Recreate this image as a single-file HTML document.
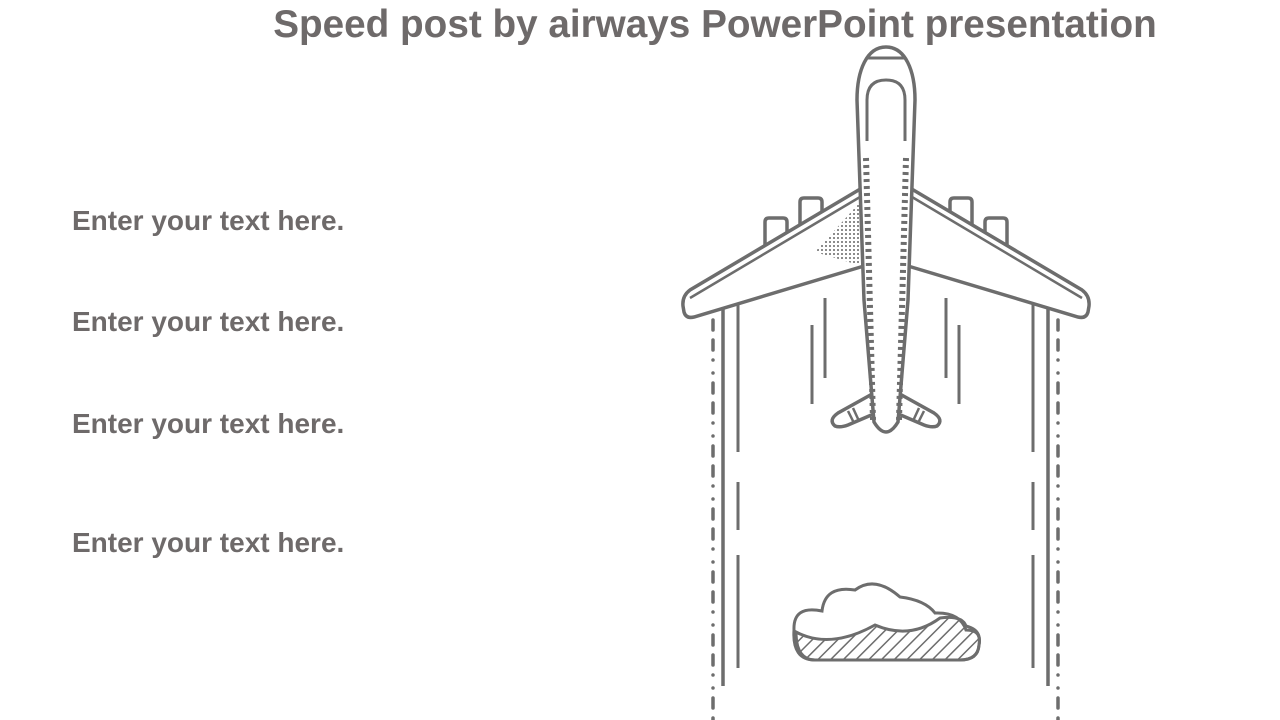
<!DOCTYPE html>
<html><head><meta charset="utf-8"><style>
body{margin:0;width:1280px;height:720px;background:#fff;overflow:hidden;position:relative;font-family:"Liberation Sans",sans-serif}
.t{position:absolute;color:#6e6a6a;font-weight:bold;white-space:nowrap}
.h{top:3px;left:0;width:1430px;text-align:center;font-size:38.7px}
.l{left:72px;font-size:28px}
svg{position:absolute;left:0;top:0}
</style></head><body>
<div class="t h">Speed post by airways PowerPoint presentation</div>
<div class="t l" style="top:205px">Enter your text here.</div>
<div class="t l" style="top:306px">Enter your text here.</div>
<div class="t l" style="top:408px">Enter your text here.</div>
<div class="t l" style="top:527px">Enter your text here.</div>
<svg width="1280" height="720" viewBox="0 0 1280 720" fill="none" stroke="#6d6d6d" stroke-width="3.5">
<defs>
<pattern id="hat" width="9" height="9" patternUnits="userSpaceOnUse" patternTransform="rotate(45)"><line x1="0" y1="0" x2="0" y2="9" stroke="#6d6d6d" stroke-width="3"/></pattern>
<pattern id="dot" width="4" height="4" patternUnits="userSpaceOnUse"><circle cx="2" cy="2" r="1" fill="#666" stroke="none"/></pattern>
</defs>
<!-- runway -->
<line x1="723" y1="305" x2="723" y2="686"/>
<line x1="1048" y1="305" x2="1048" y2="686"/>
<g stroke-width="3"><line x1="738" y1="305" x2="738" y2="452"/><line x1="738" y1="482" x2="738" y2="530"/><line x1="738" y1="555" x2="738" y2="668"/>
<line x1="1033" y1="305" x2="1033" y2="452"/><line x1="1033" y1="482" x2="1033" y2="530"/><line x1="1033" y1="555" x2="1033" y2="668"/></g>
<g stroke-width="3.5" stroke-linecap="round" stroke-dasharray="0 10 10 10 10 10 0 13">
<line x1="713" y1="310" x2="713" y2="720"/><line x1="1058" y1="310" x2="1058" y2="720"/></g>
<!-- speed lines -->
<g stroke-width="3"><line x1="825" y1="298" x2="825" y2="378"/><line x1="812" y1="325" x2="812" y2="404"/><line x1="946" y1="298" x2="946" y2="378"/><line x1="959" y1="325" x2="959" y2="404"/></g>
<!-- engines -->
<g fill="#fff">
<path d="M765,248 L765,222 Q765,218 769,218 L783,218 Q787,218 787,222 L787,240"/>
<path d="M800,229 L800,202 Q800,198 804,198 L818,198 Q822,198 822,202 L822,218"/>
<path d="M950,218 L950,202 Q950,198 954,198 L968,198 Q972,198 972,202 L972,229"/>
<path d="M985,240 L985,222 Q985,218 989,218 L1003,218 Q1007,218 1007,222 L1007,248"/>
</g>
<!-- wings -->
<path d="M862,188 L690,290 Q682,296 683,306 L684,312 Q686,319 694,317 L864,266 Z" fill="#fff"/>
<path d="M862,266 L815,252 L862,200 Z" fill="url(#dot)" stroke="none"/>
<line x1="860" y1="197" x2="690" y2="298" stroke-width="2.5"/>
<path d="M910,188 L1082,290 Q1090,296 1089,306 L1088,312 Q1086,319 1078,317 L908,266 Z" fill="#fff"/>
<line x1="912" y1="197" x2="1082" y2="298" stroke-width="2.5"/>
<!-- tail stabilizers -->
<path d="M874,393 L838,413 Q828,420 835,426 Q840,428 848,425 L876,413 Z" fill="#fff"/>
<path d="M898,393 L934,413 Q944,420 937,426 Q932,428 924,425 L896,413 Z" fill="#fff"/>
<g stroke-width="2.5"><line x1="848" y1="411" x2="854" y2="423"/><line x1="853" y1="408" x2="859" y2="421"/><line x1="924" y1="411" x2="918" y2="423"/><line x1="919" y1="408" x2="913" y2="421"/></g>
<!-- fuselage -->
<path d="M886,47 C905,47 915,70 915,100 L908,300 L898,422 Q886,442 874,422 L864,300 L857,100 C857,70 867,47 886,47 Z" fill="#fff"/>
<line x1="867" y1="58" x2="905" y2="58" stroke-width="3"/>
<path d="M867,141 L867,100 Q867,80 886,80 Q905,80 905,100 L905,141" stroke-width="3"/>
<g stroke-width="6" stroke-dasharray="3 4"><line x1="866" y1="158" x2="873" y2="420"/><line x1="906" y1="158" x2="899" y2="420"/></g>
<!-- cloud -->
<path d="M794,630 Q793,605 822,611 Q825,585 855,590 Q875,575 900,597 Q925,600 935,613 Q960,612 966,630 Q982,630 979,645 Q978,660 960,660 L815,660 Q792,660 794,630 Z" fill="#fff" stroke-width="3"/>
<path d="M796,632 Q830,650 875,625 Q910,640 940,618 Q962,615 966,626 Q982,630 979,645 Q978,660 960,660 L815,660 Q796,660 796,632 Z" fill="url(#hat)" stroke-width="3"/>
</svg>
</body></html>
